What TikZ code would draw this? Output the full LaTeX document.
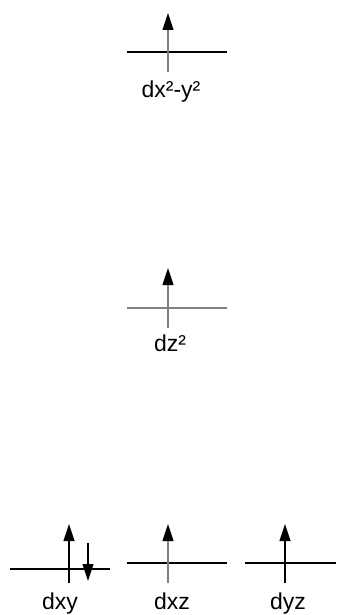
\documentclass[tikz,border=0pt]{standalone}
\usepackage{fontspec}
\setmainfont{Liberation Sans}
\usetikzlibrary{arrows.meta}
\begin{document}
\begin{tikzpicture}[x=1pt,y=-1pt,
  level/.style={line width=1.1pt,black},
  glevel/.style={line width=1.1pt,black!50},
  spin/.style={line width=1.1pt,-{Triangle[width=11pt,length=17pt,color=black]}},
  lab/.style={font=\fontsize{23}{26}\selectfont,anchor=north,inner sep=0pt}]
\useasboundingbox (0,0) rectangle (339,615);
% dx2-y2
\coordinate (a1) at (127,52); \coordinate (a2) at (227,52);
\coordinate (as) at (168,72); \coordinate (ae) at (168,13);
\draw[level] (a1) -- (a2);
\draw[spin,black!50] (as) -- (ae);
\node[lab] (la) at (171,81) {dx²-y²};
% dz2
\coordinate (b1) at (127,308); \coordinate (b2) at (227,308);
\coordinate (bs) at (168,328); \coordinate (be) at (168,268);
\draw[glevel] (b1) -- (b2);
\draw[spin,black!50] (bs) -- (be);
\node[lab] (lb) at (170,335) {dz²};
% dxy
\coordinate (c1) at (10,569); \coordinate (c2) at (110,569);
\coordinate (cs) at (69,583); \coordinate (ce) at (69,524);
\coordinate (ds) at (88,543); \coordinate (de) at (88,581);
\draw[level] (c1) -- (c2);
\draw[spin] (cs) -- (ce);
\draw[spin] (ds) -- (de);
\node[lab] (lc) at (60,593) {dxy};
% dxz
\coordinate (e1) at (127,563); \coordinate (e2) at (227,563);
\coordinate (es) at (168,583); \coordinate (ee) at (168,524);
\draw[level] (e1) -- (e2);
\draw[spin,black!50] (es) -- (ee);
\node[lab] (le) at (172,593) {dxz};
% dyz
\coordinate (f1) at (245,563); \coordinate (f2) at (336,563);
\coordinate (fs) at (285,583); \coordinate (fe) at (285,524);
\draw[level] (f1) -- (f2);
\draw[spin] (fs) -- (fe);
\node[lab] (lf) at (288,593) {dyz};
\end{tikzpicture}
\end{document}
